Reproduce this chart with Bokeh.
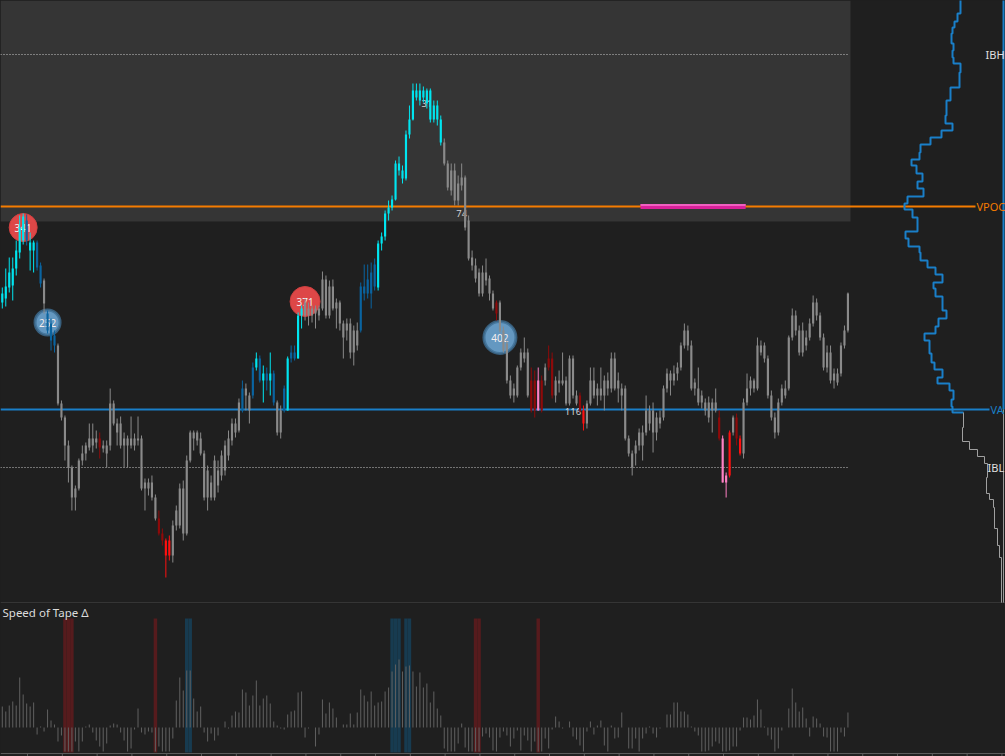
import numpy as np
from bokeh.plotting import figure
from bokeh.layouts import column
from bokeh.models import Range1d, Label, Span, ColumnDataSource, GlobalInlineStyleSheet
from bokeh.core.properties import value
from bokeh.embed import file_html
from bokeh.resources import INLINE

# ---------------- data ----------------
OPEN = [298,302,313,315,332,348,360,380,358,350,
        358,335,320,287,277,265,255,197,183,155,
        133,103,112,140,147,153,162,158,162,152,
        155,155,197,177,155,162,155,162,155,162,
        162,112,118,118,103,82,67,60,45,45,
        75,75,112,67,140,168,160,162,147,103,
        118,103,130,125,130,145,160,177,170,190,
        212,205,205,233,242,220,227,220,227,198,
        168,190,190,242,248,242,285,298,292,285,
        292,285,292,321,285,314,298,298,277,270,
        277,248,255,270,307,307,307,314,313,357,
        364,387,393,401,437,430,422,466,481,510,
        510,503,510,510,481,495,481,458,437,410,
        430,400,415,423,380,343,335,328,307,320,
        322,307,298,298,270,257,220,205,205,233,
        248,248,220,190,190,220,220,242,242,205,
        220,217,220,197,242,205,205,190,177,197,
        220,205,212,205,220,212,242,220,212,212,
        162,147,147,155,168,168,190,190,168,177,
        183,212,227,220,227,233,255,270,255,212,
        212,198,198,183,198,190,183,162,125,125,
        168,183,162,147,198,212,220,212,255,255,
        242,205,183,168,198,212,212,263,285,270,
        248,255,263,277,298,285,263,233,248,227,
        218,227,255,270]
CLOSE = [307,314,328,332,350,373,384,360,350,358,
         333,317,297,270,260,255,197,183,155,133,
         103,112,140,147,155,162,155,162,153,155,
         147,197,177,168,177,155,162,155,162,160,
         112,118,112,103,82,67,60,45,60,75,
         90,112,67,140,168,162,168,147,103,130,
         103,140,115,145,155,162,177,168,198,212,
         205,190,233,242,220,227,220,227,198,168,
         190,212,242,248,242,285,292,285,285,292,
         287,292,321,285,314,292,292,277,263,277,
         248,270,270,314,314,321,328,336,357,364,
         387,393,401,437,430,422,466,481,510,503,
         500,510,497,481,495,481,458,437,413,430,
         400,417,423,373,342,335,322,307,328,328,
         307,292,287,270,250,220,205,212,233,248,
         242,205,190,220,220,190,233,233,205,220,
         217,220,197,242,205,197,190,177,197,220,
         205,212,205,220,212,242,212,212,205,162,
         147,133,155,168,155,190,177,168,183,183,
         212,227,220,227,233,255,270,255,212,218,
         198,205,190,198,190,198,162,118,118,168,
         183,162,147,198,212,220,212,255,248,242,
         205,183,168,198,212,205,263,285,270,248,
         270,263,277,298,285,263,233,248,220,220,
         227,255,270,307]
HIGH = [313,332,343,343,360,385,387,386,368,360,
        360,338,322,290,282,270,257,200,185,160,
        135,115,142,155,158,177,177,170,168,160,
        160,212,200,182,184,168,165,184,167,184,
        165,122,122,125,106,90,72,62,65,80,
        95,117,120,145,170,170,170,168,150,135,
        125,145,140,150,160,170,182,182,202,220,
        217,208,238,248,245,235,233,248,230,200,
        195,215,244,255,255,288,295,302,298,295,
        295,295,329,325,320,321,302,300,280,282,
        282,275,278,318,336,336,338,342,360,368,
        390,400,405,440,444,435,470,495,517,517,
        517,514,512,512,500,500,485,462,440,437,
        437,425,437,425,385,350,342,332,335,342,
        325,310,300,300,274,260,225,217,235,252,
        263,252,233,230,233,225,237,255,248,224,
        230,248,224,245,245,210,208,195,200,233,
        233,217,233,225,228,248,248,228,217,215,
        165,150,160,172,175,205,195,198,188,190,
        215,232,230,235,238,258,277,275,260,222,
        233,210,202,204,202,212,190,165,128,170,
        185,187,165,202,227,224,222,263,260,258,
        245,210,188,202,216,220,265,292,290,275,
        278,270,282,305,302,288,267,255,255,232,
        232,258,275,308]
LOW = [292,294,308,300,325,342,356,355,330,328,
       330,313,287,267,250,248,195,180,140,118,
       90,90,110,135,140,150,148,152,142,148,
       133,150,175,155,152,133,133,152,150,155,
       110,90,105,100,80,65,55,23,40,38,
       70,72,60,65,138,150,155,145,100,90,
       100,100,108,120,125,140,155,163,168,188,
       190,177,202,230,218,198,210,205,195,165,
       162,188,190,238,240,242,272,280,275,278,
       272,280,290,282,282,290,272,270,242,260,
       242,235,250,268,300,302,292,310,310,350,
       360,380,390,400,425,417,420,462,480,500,
       495,498,492,478,478,475,455,435,410,405,
       395,395,410,370,340,330,318,304,304,315,
       300,290,280,268,248,217,202,198,203,230,
       238,203,188,183,190,188,215,230,202,198,
       208,215,195,195,202,195,188,170,172,195,
       202,195,200,190,205,208,210,198,190,160,
       144,125,135,150,140,165,170,148,160,172,
       180,208,205,215,220,230,252,250,210,205,
       195,192,185,178,168,188,160,118,103,123,
       165,155,145,142,195,205,208,210,245,238,
       202,180,162,165,195,202,210,260,265,245,
       244,250,260,274,280,260,230,228,217,212,
       215,224,252,268]
# bar colour classes (run-length): c=strong buy, b=buy, g=neutral, r=sell, R=strong sell, p=absorption
COLOR_RUNS = [("c",7),("b",1),("c",2),("b",2),("g",1),("b",3),("g",12),("r",1),("g",16),
              ("r",2),("R",2),("g",20),("b",1),("g",2),("b",1),("c",1),("b",1),("c",1),
              ("b",1),("c",1),("b",1),("g",2),("b",1),("c",1),("b",2),("c",2),("g",16),
              ("b",5),("c",19),("g",15),("r",1),("g",9),("r",2),("p",1),("r",1),("g",1),
              ("r",2),("g",7),("r",1),("R",1),("g",38),("r",1),("p",2),("R",1),("g",1),
              ("r",1),("R",1),("g",31)]

# Speed of Tape delta
SPEED = [21,16,22,26,22,50,33,24,21,25,-7,1,-4,18,7,3,-14,-8,-24,-24,
         -24,-14,-24,-14,1,3,-5,-13,-19,-24,-16,2,4,3,-5,-13,-24,-21,-2,19,
         -5,-7,-4,-5,-24,-19,-24,-24,-24,-11,27,50,37,57,57,29,16,21,-5,-14,
         -6,-13,-8,0,6,-1,12,16,15,38,35,22,32,47,22,29,32,24,6,2,
         -1,-2,13,16,17,35,
         36,-10,-1,0,-19,-7,28,14,25,19,10,0,3,3,14,3,15,38,32,26,
         36,22,25,26,36,40,56,63,68,56,61,62,56,41,55,40,44,25,36,19,
         12,-21,-24,-24,-24,-16,4,-20,-24,-24,-24,-24,-9,-6,-10,-23,-24,-10,-4,-8,
         -19,-11,-3,-23,-8,-13,-24,-14,-24,-24,-11,-21,-2,11,6,-1,0,6,-9,-12,
         -18,-24,-4,6,-7,2,
         7,-18,-24,2,-11,-10,15,0,-21,-21,-11,-24,-11,-6,1,-6,-10,-1,0,13,
         13,25,25,16,16,13,1,-4,-8,-24,-24,-23,-19,-14,-16,-24,-24,-23,-19,-19,
         -3,10,10,8,12,28,18,1,-8,-12,-24,-21,-3,0,19,39,25,16,20,9,
         -9,11,9,4,-9,-10,-24,-24,-24,-5,-9,15]
SPEED_SELL_BARS = [18,19,20,44,136,137,154]
SPEED_BUY_BARS = [53,54,112,113,114,116,117]

# Big-trade bubbles
BUB_BAR = [6, 13, 87, 143]
BUB_PRICE = [373, 278, 299, 263]
BUB_VAL = [341, 252, 371, 402]
BUB_SIDE = ["sell", "buy", "sell", "buy"]

# small trade labels
TL_BAR = [122, 132, 164]
TL_PRICE = [497, 387, 189]
TL_TEXT = ["31", "74", "116"]

# key levels
IBH, IBL, VPOC, VAL = 546, 133, 394, 191
IB_SHADE_LOW = 379
ZONE_BARS = (183.4, 213.6)   # magenta zone on VPOC

# volume profile (price boundaries, volumes)
PROF_VA_LEVELS = [605,587,579,573,567,557,550,543,537,528,513,500,485,477,470,463,456,448,441,435,
                  427,419,412,404,397,391,383,377,369,362,354,348,340,333,326,318,312,304,290,282,
                  274,267,260,247,238,231,223,217,210,201,194,188]
PROF_VA_VOL = [43,46,49,51,52,50,51,50,43,44,53,57,58,51,62,73,83,84,92,87,
               81,86,80,96,99,91,86,86,98,95,84,83,76,68,61,70,68,61,57,65,
               68,79,74,72,69,61,66,54,50,52,51]
PROF_LO_LEVELS = [188,173,159,151,144,137,123,107,101,93,72,55,43,-3]
PROF_LO_VOL = [40,41,34,26,19,16,17,14,10,9,6,4,2]

# ---------------- styling ----------------
BG = "#1f1f1f"
SHADE = "#353535"
ORANGE = "#f57c00"
BLUE = "#1a7fc8"
COLMAP = {"g": "#8a8a8a", "c": "#00e5f0", "b": "#0a64a0", "r": "#8e0a0a", "R": "#ff1010", "p": "#ff80c4"}
FONT = "Noto Sans"

W = 1005
PX0, PXW = 1.8, 3.48


def px2bar(px):
    return (px - PX0) / PXW


N = len(OPEN)
idx = np.arange(N)
colors = [COLMAP[c] for c, n in COLOR_RUNS for _ in range(n)]

x_range = Range1d(px2bar(0), px2bar(W))

p = figure(width=W, height=603, x_range=x_range, y_range=Range1d(-3, 600),
           output_backend="svg", toolbar_location=None, min_border=0,
           x_axis_location=None, y_axis_location=None,
           background_fill_color=BG, border_fill_color=BG, outline_line_color=None)
p.grid.grid_line_color = None
p.extra_x_ranges = {"prof": Range1d(start=1003, end=-2)}

sess_l, sess_r = px2bar(0), px2bar(850)
p.quad(left=sess_l, right=sess_r, bottom=IB_SHADE_LOW, top=600, fill_color=SHADE, line_color=None)

# IB lines
for lvl in (IBH, IBL):
    p.segment(x0=sess_l, x1=px2bar(848), y0=lvl, y1=lvl, line_color="#d8d8d8",
              line_width=1, line_dash="1 2", line_alpha=0.9)

# VPOC and VA lines
p.segment(x0=sess_l, x1=px2bar(975), y0=VPOC, y1=VPOC, line_color=ORANGE, line_width=2)
p.segment(x0=sess_l, x1=px2bar(989), y0=VAL, y1=VAL, line_color=BLUE, line_width=2)
p.quad(left=ZONE_BARS[0], right=ZONE_BARS[1], bottom=VPOC - 2.5, top=VPOC + 2.5,
       fill_color="#d9209a", line_color=None)
p.quad(left=ZONE_BARS[0], right=ZONE_BARS[1], bottom=VPOC + 0.5, top=VPOC + 2.5,
       fill_color="#f060c0", line_color=None)

# volume profile


def step_path(levels, vols):
    xs, ys = [], []
    for k, v in enumerate(vols):
        xs += [v, v]
        ys += [levels[k], levels[k + 1]]
    return xs, ys


vx, vy = step_path(PROF_VA_LEVELS, PROF_VA_VOL)
vx.append(PROF_LO_VOL[0])
vy.append(PROF_LO_LEVELS[0])
p.line(vx, vy, x_range_name="prof", line_color=BLUE, line_width=2)
gx, gy = step_path(PROF_LO_LEVELS, PROF_LO_VOL)
p.line(gx, gy, x_range_name="prof", line_color="#a0a0a0", line_width=1)
p.segment(x0=0, x1=0, y0=VAL, y1=605, x_range_name="prof", line_color=BLUE, line_width=2)
p.segment(x0=0, x1=0, y0=-3, y1=VAL, x_range_name="prof", line_color="#9a9a9a", line_width=1)

# level labels
for txt, lvl, xpx, col in [("IBH", IBH, 985, "#e0e0e0"), ("VPOC", VPOC, 976, ORANGE),
                            ("VA", VAL, 990, BLUE), ("IBL", IBL, 987, "#e0e0e0")]:
    p.add_layout(Label(x=xpx, y=lvl, x_units="screen", y_units="data", text=txt,
                       text_color=col, text_font=FONT, text_font_size="11px",
                       text_baseline="middle"))

# trade labels
p.text(x=TL_BAR, y=TL_PRICE, text=TL_TEXT, text_color="#d4d4d4", text_font=value(FONT),
       text_font_size="9.5px", text_align="center", text_baseline="middle")

# bubbles
bub_size = np.interp(BUB_VAL, [252, 341, 402], [25, 28, 32])
is_sell = np.array([s == "sell" for s in BUB_SIDE])
bx = np.array(BUB_BAR)
by = np.array(BUB_PRICE)
bv = np.array(BUB_VAL)
p.scatter(x=bx[is_sell], y=by[is_sell], size=bub_size[is_sell], marker="circle",
          fill_color="#e84a4a", fill_alpha=0.95, line_color="#d04040", line_width=1)
p.scatter(x=bx[~is_sell], y=by[~is_sell], size=bub_size[~is_sell], marker="circle",
          fill_color="#6aa3cf", fill_alpha=0.92, line_color="#3f6f95", line_width=3, line_alpha=0.8)
p.text(x=bx, y=by, text=[str(v) for v in bv], text_color="#f4eeee", text_font=value(FONT),
       text_font_size="10px", text_align="center", text_baseline="middle")

# candles
src = ColumnDataSource(dict(x=idx, top=np.maximum(OPEN, CLOSE), bot=np.minimum(OPEN, CLOSE),
                            hi=HIGH, lo=LOW, col=colors))
p.segment(x0="x", y0="lo", x1="x", y1="hi", line_color="col", line_width=1, source=src)
p.vbar(x="x", width=0.62, top="top", bottom="bot", fill_color="col", line_color=None, source=src)

p.add_layout(Span(location=-2.5, dimension="width", line_color="#4d4d4d", line_width=1))

# ---------------- Speed of tape panel ----------------
p2 = figure(width=W, height=153, x_range=x_range, y_range=Range1d(-29, 124),
            output_backend="svg", toolbar_location=None, min_border=0,
            x_axis_location=None, y_axis_location=None,
            background_fill_color=BG, border_fill_color=BG, outline_line_color=None)
p2.grid.grid_line_color = None
p2.vbar(x=SPEED_SELL_BARS, width=1.0, top=109, bottom=-25, fill_color="#561b1d", line_color=None)
p2.vbar(x=SPEED_BUY_BARS, width=1.0, top=109, bottom=-25, fill_color="#173b50", line_color=None)
sp = np.array(SPEED)
p2.vbar(x=idx, width=0.3, top=np.maximum(sp, 0), bottom=np.minimum(sp, 0),
        fill_color="#5e5e5e", line_color=None)
p2.segment(x0=px2bar(0), x1=px2bar(W), y0=-26, y1=-26, line_color="#5c5c5c", line_width=1)
ticks = np.arange(7.25, px2bar(W), 10.0)
p2.segment(x0=ticks, x1=ticks, y0=-26, y1=-29, line_color="#5c5c5c", line_width=1)
p2.add_layout(Label(x=2, y=115.5, x_units="screen", y_units="data", text="Speed of Tape Δ",
                    text_color="#dcdcdc", text_font=FONT, text_font_size="11.5px",
                    text_baseline="middle"))

layout = column(p, p2, spacing=0,
                stylesheets=[GlobalInlineStyleSheet(css="html, body {margin:0; padding:0; background:#1f1f1f; overflow:hidden;}")])

open("out.html", "w").write(file_html(layout, INLINE))
